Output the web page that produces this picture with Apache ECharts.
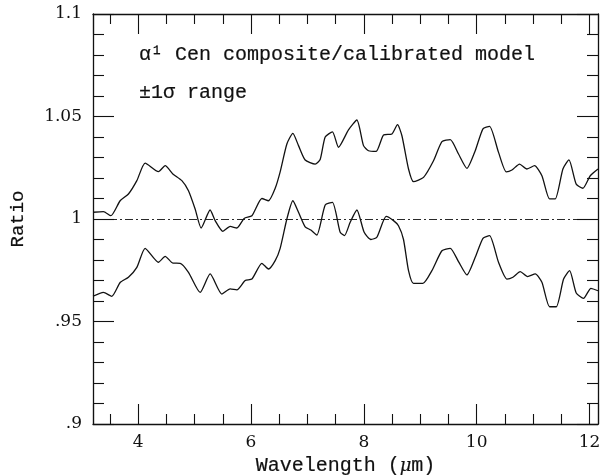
<!DOCTYPE html>
<html>
<head>
<meta charset="utf-8">
<script src="https://cdn.jsdelivr.net/npm/echarts@6/dist/echarts.min.js"></script>
<style>
  html, body { margin: 0; padding: 0; background: #fff; }
  #main { width: 600px; height: 475px; }
</style>
</head>
<body>
<div id="main"></div>
<script>
// upper edge of the +-1 sigma band
var upperWave = [3.2, 3.385, 3.516, 3.681, 3.828, 3.977, 4.124, 4.36, 4.479, 4.615, 4.775, 4.892,
  5.01, 5.117, 5.276, 5.365, 5.502, 5.631, 5.75, 5.879, 6.016, 6.193, 6.31, 6.429, 6.517, 6.636,
  6.742, 6.842, 6.96, 7.138, 7.226, 7.315, 7.444, 7.551, 7.728, 7.877, 7.994, 8.083, 8.219, 8.349,
  8.498, 8.597, 8.675, 8.792, 8.88, 9.058, 9.235, 9.384, 9.531, 9.678, 9.827, 9.974, 10.111, 10.228,
  10.387, 10.524, 10.625, 10.76, 10.89, 11.025, 11.156, 11.291, 11.392, 11.528, 11.635, 11.764,
  11.883, 12.013, 12.15];
var upperRatio = [1.0033, 1.0036, 1.0016, 1.0089, 1.0122, 1.0187, 1.0273, 1.0231, 1.026, 1.022, 1.0187, 1.0138,
  1.0049, 0.9956, 1.0044, 0.9992, 0.994, 0.9964, 0.9956, 1.0003, 1.0016, 1.010, 1.0089, 1.015, 1.023, 1.0366,
  1.0418, 1.0358, 1.0288, 1.0268, 1.029, 1.040, 1.0425, 1.035, 1.0435, 1.0483, 1.0358, 1.0333, 1.033, 1.041,
  1.0415, 1.046, 1.0406, 1.0244, 1.0182, 1.0203, 1.0284, 1.0377, 1.0387, 1.0317, 1.0247, 1.0333, 1.044, 1.0452,
  1.0325, 1.023, 1.0239, 1.0268, 1.0244, 1.026, 1.0211, 1.0098, 1.0098, 1.0244, 1.0288, 1.017,
  1.015, 1.0211, 1.0244];

// lower edge of the band
var lowerWave = [3.2, 3.385, 3.534, 3.681, 3.828, 3.977, 4.124, 4.36, 4.479, 4.615, 4.745, 4.892,
  5.099, 5.276, 5.484, 5.631, 5.75, 5.897, 6.016, 6.193, 6.31, 6.429, 6.517, 6.636, 6.742, 6.842,
  6.96, 7.061, 7.167, 7.315, 7.444, 7.581, 7.657, 7.758, 7.877, 8.006, 8.125, 8.231, 8.396, 8.526,
  8.614, 8.703, 8.792, 8.88, 9.047, 9.206, 9.384, 9.531, 9.678, 9.827, 9.974, 10.111, 10.228, 10.387,
  10.536, 10.642, 10.772, 10.902, 11.038, 11.156, 11.291, 11.41, 11.54, 11.647, 11.764, 11.894,
  12.025, 12.15];
var lowerRatio = [0.9623, 0.9642, 0.9623, 0.969, 0.9716, 0.9764, 0.9857, 0.9789, 0.9818, 0.9785, 0.9784, 0.974,
  0.9642, 0.9732, 0.9634, 0.9659, 0.9654, 0.970, 0.9707, 0.9784, 0.9756, 0.9797, 0.9857, 1.000, 1.0089, 1.0033,
  0.9962, 0.9946, 0.9922, 1.0068, 1.0081, 0.9935, 0.9919, 0.9984, 1.0044, 0.9935, 0.990, 0.9911, 1.0013, 0.9992,
  0.9967, 0.990, 0.9748, 0.9686, 0.9686, 0.9748, 0.9845, 0.9857, 0.9792, 0.9727, 0.9813, 0.9906, 0.9919, 0.9789,
  0.9707, 0.9716, 0.9743, 0.9719, 0.9732, 0.9691, 0.9572, 0.9572, 0.9707, 0.9748, 0.9639, 0.9613,
  0.9662, 0.965];

var xTickValues = [4, 6, 8, 10, 12];
var baseline = 1;
var notes = ['\u03b1\u00b9 Cen composite/calibrated model', '\u00b11\u03c3 range'];

var font = 'DejaVu Serif';
var mono = 'Liberation Mono';
var ink = '#111';

function pairs(xs, ys) {
  return xs.map(function (x, i) { return [x, ys[i]]; });
}

var chart = echarts.init(document.getElementById('main'), null, { renderer: 'canvas' });

var xCommon = {
  type: 'value',
  min: 3.2,
  max: 12.15,
  axisLine: { show: true, onZero: false, lineStyle: { color: ink, width: 1.3 } },
  axisTick: { show: true, inside: true, length: 20, lineStyle: { color: ink, width: 1.1 } },
  minorTick: { show: true, splitNumber: 4, length: 10, lineStyle: { color: ink, width: 1.1 } },
  splitLine: { show: false },
  minorSplitLine: { show: false }
};
var yCommon = {
  type: 'value',
  min: 0.9,
  max: 1.1,
  interval: 0.05,
  axisLine: { show: true, onZero: false, lineStyle: { color: ink, width: 1.3 } },
  axisTick: { show: true, inside: true, length: 21, lineStyle: { color: ink, width: 1.1 } },
  minorTick: { show: true, splitNumber: 5, length: 11, lineStyle: { color: ink, width: 1.1 } },
  splitLine: { show: false },
  minorSplitLine: { show: false }
};

// typewriter-like labels, only a hair of stroke
var labelText = {
  color: ink, fontFamily: mono, fontSize: 20,
  textBorderColor: ink, textBorderWidth: 0.2
};

var option = {
  backgroundColor: '#fff',
  animation: false,
  grid: { left: 93, right: 2, top: 14, bottom: 51, outerBoundsMode: 'none', containLabel: false },
  xAxis: [
    Object.assign({}, xCommon, {
      position: 'bottom',
      name: 'Wavelength ({i|\u03bc}m)',
      nameLocation: 'middle',
      nameGap: 31,
      nameTextStyle: Object.assign({}, labelText, {
        rich: { i: Object.assign({}, labelText, { fontFamily: font, fontStyle: 'italic', fontSize: 18 }) }
      }),
      axisLabel: {
        color: ink, fontFamily: font, fontSize: 17, margin: 10,
        formatter: function (v) { return xTickValues.indexOf(v) >= 0 ? String(v) : ''; }
      }
    }),
    Object.assign({}, xCommon, { position: 'top', axisLabel: { show: false } })
  ],
  yAxis: [
    Object.assign({}, yCommon, {
      position: 'left',
      name: 'Ratio',
      nameLocation: 'middle',
      nameGap: 66,
      nameTextStyle: Object.assign({}, labelText, { fontSize: 19 }),
      axisLabel: {
        color: ink, fontFamily: font, fontSize: 17, margin: 11,
        formatter: function (v) { return String(+v.toFixed(2)).replace(/^0\./, '.'); }
      }
    }),
    Object.assign({}, yCommon, { position: 'right', axisLabel: { show: false } })
  ],
  graphic: [
    {
      type: 'text', x: 139, y: 55,
      style: {
        text: notes[0], fill: ink, stroke: ink, lineWidth: 0.2,
        font: '20px "' + mono + '"', verticalAlign: 'middle'
      }
    },
    {
      type: 'text', x: 139, y: 93,
      style: {
        text: notes[1], fill: ink, stroke: ink, lineWidth: 0.2,
        font: '20px "' + mono + '"', verticalAlign: 'middle'
      }
    }
  ],
  series: [
    {
      type: 'line',
      data: pairs(upperWave, upperRatio),
      showSymbol: false,
      smooth: 0.2,
      lineStyle: { color: ink, width: 1.3 },
      markLine: {
        silent: true,
        symbol: 'none',
        label: { show: false },
        lineStyle: { color: ink, width: 0.9, type: [8, 3, 2, 3] },
        data: [{ yAxis: baseline }]
      }
    },
    {
      type: 'line',
      data: pairs(lowerWave, lowerRatio),
      showSymbol: false,
      smooth: 0.2,
      lineStyle: { color: ink, width: 1.3 }
    }
  ]
};
chart.setOption(option);
</script>
</body>
</html>
